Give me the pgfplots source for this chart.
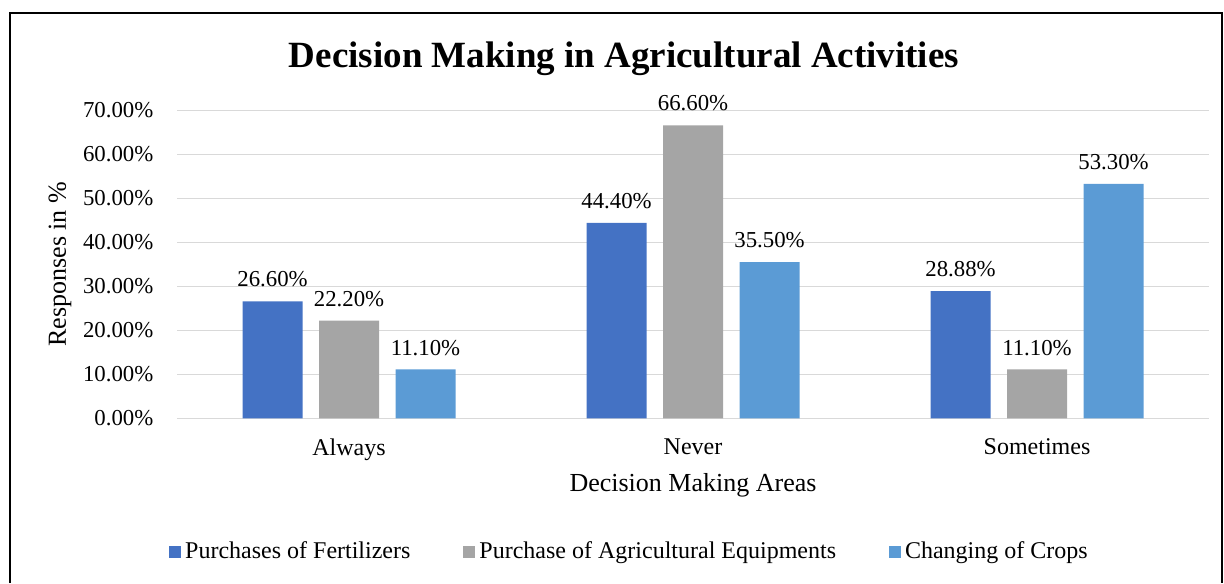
\documentclass[border=0pt]{standalone}
\usepackage{pgfplots}
\pgfplotsset{compat=1.18}
\usepackage{fontspec}
\setmainfont{Liberation Serif}
\definecolor{cA}{HTML}{4472C4}
\definecolor{cB}{HTML}{A5A5A5}
\definecolor{cC}{HTML}{5B9BD5}
\definecolor{gridc}{HTML}{D9D9D9}
\begin{document}
\begin{tikzpicture}
\path[use as bounding box] (0,0) rectangle (612pt,291.5pt);
\draw[line width=1pt] (4.75pt,0) -- (4.75pt,284.75pt) -- (610.75pt,284.75pt) -- (610.75pt,0);
\node[font=\fontsize{18.5}{22}\selectfont\bfseries] at (312pt,262pt) {Decision Making in Agricultural Activities};
\begin{axis}[
  at={(88.5pt,82.35pt)}, anchor=south west,
  scale only axis, width=516pt, height=154pt,
  ybar=8.25pt, bar width=30pt,
  xmin=-0.5, xmax=2.5, ymin=0, ymax=70,
  xtick={0,1,2}, xticklabels={Always,Never,Sometimes},
  ytick={0,10,...,70},
  axis line style={draw=none},
  major tick length=0pt,
  ymajorgrids, grid style={gridc, line width=0.75pt},
  /pgf/number format/assume math mode=true,
  yticklabel={\pgfmathprintnumber[fixed,fixed zerofill,precision=2]{\tick}\%},
  yticklabel style={font=\fontsize{11.4}{13}\selectfont, xshift=-8.3pt},
  xticklabel style={font=\fontsize{12}{14}\selectfont, yshift=-6.5pt},
  xlabel={Decision Making Areas},
  ylabel={Responses in \%},
  xlabel style={font=\fontsize{13}{15}\selectfont, at={(axis description cs:0.5,-0.2166)}, anchor=center},
  ylabel style={font=\fontsize{13}{15}\selectfont, at={(axis description cs:-0.1134,0.5)}, anchor=center, rotate=0},
  nodes near coords={\pgfmathprintnumber[fixed,fixed zerofill,precision=2]{\pgfplotspointmeta}\%},
  nodes near coords style={font=\fontsize{11.4}{13}\selectfont, text=black, yshift=3.5pt},
  legend columns=3,
  legend style={draw=none, fill=none, at={(axis description cs:0.4394,-0.434)}, anchor=center,
    font=\fontsize{12}{14}\selectfont, /tikz/every even column/.append style={column sep=24.5pt},
    /tikz/every odd column/.append style={column sep=0pt}},
  legend image code/.code={\fill[#1] (0pt,-3pt) rectangle (6pt,3pt);},
]
\addplot[fill=cA, draw=none] coordinates {(0,26.60) (1,44.40) (2,28.88)};
\addplot[fill=cB, draw=none] coordinates {(0,22.20) (1,66.60) (2,11.10)};
\addplot[fill=cC, draw=none] coordinates {(0,11.10) (1,35.50) (2,53.30)};
\legend{Purchases of Fertilizers, Purchase of Agricultural Equipments, Changing of Crops}
\end{axis}
\end{tikzpicture}
\end{document}
